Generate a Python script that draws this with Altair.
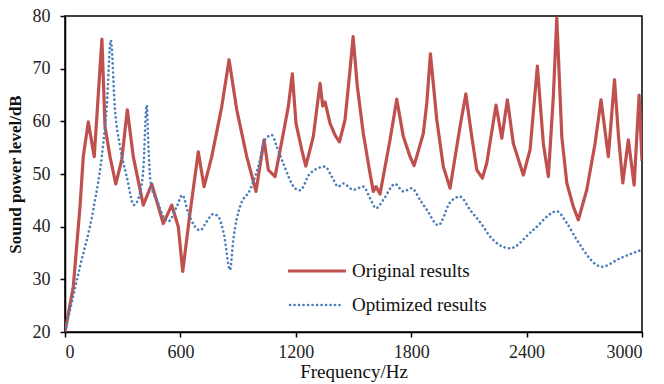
import altair as alt
import pandas as pd

# ---- data ----
orig_freq = [0, 43, 78, 95, 121, 152, 192, 208, 234, 264, 295, 324, 355, 407, 451, 511, 555,
             589, 612, 650, 693, 723, 763, 815, 853, 893, 945, 993, 1035, 1057, 1092, 1135,
             1161, 1182, 1201, 1231, 1252, 1291, 1326, 1340, 1352, 1378, 1404, 1427, 1456,
             1482, 1498, 1520, 1551, 1586, 1603, 1617, 1638, 1690, 1725, 1759, 1794, 1815,
             1863, 1881, 1900, 1933, 1967, 2002, 2054, 2084, 2115, 2141, 2170, 2193, 2241,
             2271, 2300, 2331, 2383, 2418, 2456, 2487, 2513, 2539, 2557, 2583, 2609, 2643,
             2669, 2713, 2756, 2787, 2825, 2857, 2878, 2900, 2929, 2959, 2985, 3000]
orig_level = [20, 28.6, 43.8, 53.3, 59.9, 53.3, 75.6, 59, 53.3, 48.1, 52.7, 62.2, 53.3, 44.1,
              48.1, 40.6, 44.1, 40, 31.5, 42.6, 54.2, 47.6, 53.3, 62.8, 71.7, 62.2, 53.3,
              46.7, 56.5, 50.8, 49.5, 57.7, 62.8, 69, 59.6, 54.6, 51.5, 57.1, 67.2, 62.9,
              63.7, 59.6, 57.4, 56.1, 60.3, 69.8, 76.1, 66.6, 57.7, 50.1, 46.7, 47.6, 46.2,
              56.5, 64.2, 57.1, 53.3, 51.6, 57.7, 63.4, 72.8, 60.3, 51.4, 47.3, 59, 65.2,
              57.1, 50.8, 49.2, 52.1, 63.1, 56.8, 64.1, 55.8, 49.8, 54.6, 70.5, 55.8, 49.5,
              64.7, 79.6, 57.1, 48.3, 43.8, 41.3, 47, 55.8, 64.1, 53.3, 67.9, 57.1, 48.3,
              56.5, 47.9, 65, 52.5]

opt_freq = [0, 78, 147, 199, 217, 238, 260, 286, 321, 359, 390, 407, 425, 433, 446, 485, 511,
            537, 581, 610, 641, 676, 702, 737, 771, 797, 827, 858, 875, 910, 962, 1005, 1040,
            1075, 1101, 1135, 1196, 1222, 1274, 1352, 1387, 1421, 1447, 1499, 1551, 1586,
            1617, 1655, 1716, 1759, 1803, 1846, 1881, 1941, 2002, 2054, 2106, 2175, 2200,
            2314, 2435, 2557, 2609, 2661, 2791, 2886, 2990]
opt_level = [20, 32.4, 43.2, 55.8, 62.8, 75.4, 62.2, 55.2, 49.5, 44.1, 46.4, 50.8, 63.1, 55.8,
             48.2, 44.4, 41.9, 41, 43.8, 46, 42.6, 40, 39.3, 41, 42.4, 41.9, 38.4, 31.8, 37.5,
             43.8, 47, 51.4, 56.5, 57.4, 55.2, 52, 47.3, 46.9, 50.1, 51.4, 49.5, 47.6, 48.2,
             47, 47.6, 45.4, 43.5, 45.1, 48.1, 46.7, 47.3, 45.1, 43.2, 40.3, 44.6, 45.7,
             43.2, 40, 38.6, 35.9, 39.4, 42.9, 40.7, 37.5, 32.4, 34, 35.5]

x_ticks = [0, 600, 1200, 1800, 2400, 3000]
y_ticks = [20, 30, 40, 50, 60, 70, 80]
series_names = ["Original results", "Optimized results"]

RED = "#C0504D"
BLUE = "#4A7EBB"
FONT = "Liberation Serif"

orig_df = pd.DataFrame({"freq": orig_freq, "level": orig_level})
opt_df = pd.DataFrame({"freq": opt_freq, "level": opt_level})

x_enc = alt.X("freq:Q", scale=alt.Scale(domain=[0, 3000], nice=False),
              axis=alt.Axis(values=x_ticks, format="d", title="Frequency/Hz",
                            titleFontWeight="normal", titleFontSize=19, titlePadding=1,
                            labelPadding=6))
y_enc = alt.Y("level:Q", scale=alt.Scale(domain=[20, 80], nice=False),
              axis=alt.Axis(values=y_ticks, title="Sound power level/dB", titleFontWeight="bold",
                            titleFontSize=17, titlePadding=8, labelPadding=10))

orig_line = alt.Chart(orig_df).mark_line(
    color=RED, strokeWidth=3.2, interpolate="linear", strokeJoin="round", clip=True
).encode(x=x_enc, y=y_enc)

opt_line = alt.Chart(opt_df).mark_line(
    color=BLUE, strokeWidth=2.6, strokeDash=[0.1, 4.4], strokeCap="round",
    interpolate="monotone", clip=True
).encode(x="freq:Q", y="level:Q")

# manual legend (placed inside the plot area)
leg_df = pd.DataFrame({"name": series_names})
leg_red = alt.Chart(leg_df).transform_filter(alt.datum.name == series_names[0]).mark_rule(
    color=RED, strokeWidth=3.2
).encode(x=alt.value(223), x2=alt.value(281), y=alt.value(255))
leg_blue = alt.Chart(leg_df).transform_filter(alt.datum.name == series_names[1]).mark_rule(
    color=BLUE, strokeWidth=2.6, strokeDash=[0.1, 4.4], strokeCap="round"
).encode(x=alt.value(225), x2=alt.value(275), y=alt.value(289))
leg_text1 = alt.Chart(leg_df).transform_filter(alt.datum.name == series_names[0]).mark_text(
    align="left", baseline="middle", font=FONT, fontSize=19, color="#111"
).encode(x=alt.value(287), y=alt.value(255), text="name:N")
leg_text2 = alt.Chart(leg_df).transform_filter(alt.datum.name == series_names[1]).mark_text(
    align="left", baseline="middle", font=FONT, fontSize=19, color="#111"
).encode(x=alt.value(287), y=alt.value(289), text="name:N")

chart = alt.layer(orig_line, opt_line, leg_red, leg_blue, leg_text1, leg_text2).properties(
    width=577, height=316,
    autosize=alt.AutoSizeParams(type="none"),
    padding={"left": 65, "top": 16, "right": 22, "bottom": 52},
    background="white",
).configure_view(
    stroke="black", strokeWidth=1.5
).configure_axis(
    grid=False, domainColor="black", domainWidth=1.5, tickColor="black", tickSize=5,
    tickWidth=1.5, labelFont=FONT, labelFontSize=18, labelColor="#222",
    titleFont=FONT, titleColor="#111"
)

chart.save("out.html", embed_options={"renderer": "svg", "actions": False})
